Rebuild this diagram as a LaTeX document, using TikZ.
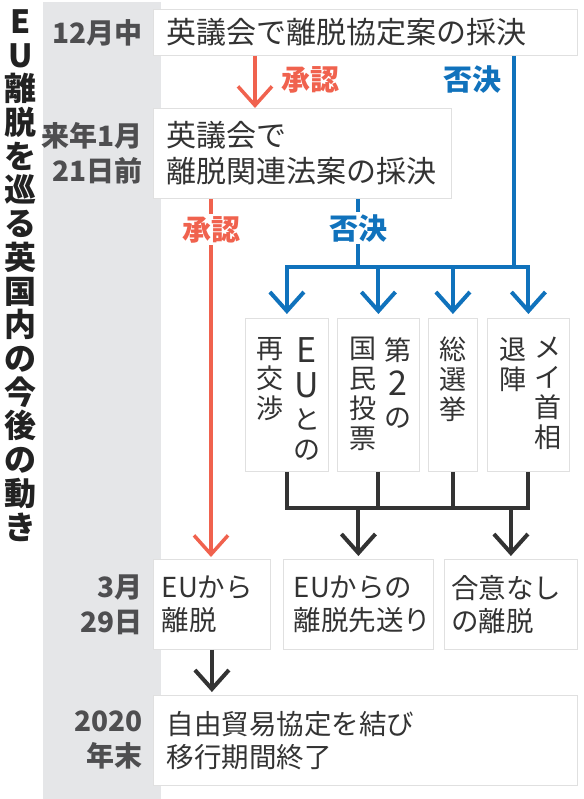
\documentclass[tikz,border=0pt]{standalone}
\usepackage{fontspec}
\newfontfamily\jp{Noto Sans CJK JP}
\usepackage{tikz}
\usetikzlibrary{positioning,arrows.meta,calc,shadows}
\definecolor{bandgray}{RGB}{229,230,232}
\definecolor{inkgray}{RGB}{51,51,51}
\definecolor{dategray}{RGB}{78,78,80}
\definecolor{titleink}{RGB}{34,34,34}
\definecolor{yesred}{RGB}{240,98,78}
\definecolor{noblue}{RGB}{16,114,188}
\newcommand{\bigEU}[1]{{\fontsize{34}{30}\selectfont #1}}
\tikzset{
  flowbox/.style={draw=black!12, line width=.8pt, fill=white,
    drop shadow={shadow xshift=1pt, shadow yshift=-1pt, opacity=.18},
    font=\fontsize{30}{36}\selectfont\jp, text=inkgray, align=left,
    inner xsep=13pt, inner ysep=0pt, anchor=north west},
  endbox/.style={flowbox, font=\fontsize{27.5}{33}\selectfont\jp},
  tatebox/.style={draw=black!12, line width=.8pt, fill=white,
    drop shadow={shadow xshift=1pt, shadow yshift=-1pt, opacity=.18},
    minimum height=153pt, anchor=north west, inner sep=0pt},
  tatecol/.style={font=\fontsize{27}{30}\selectfont\jp, text=inkgray, align=center,
    anchor=north, inner sep=0pt},
  datelabel/.style={font=\fontsize{28}{35}\selectfont\jp\bfseries, text=dategray,
    align=right, inner sep=0pt},
  titlechar/.style={font=\fontsize{32}{32}\selectfont\jp\bfseries, text=titleink,
    inner sep=0pt, text height=.8em, text depth=.1em},
  votelabel/.style={font=\fontsize{29}{29}\selectfont\jp\bfseries, inner xsep=1pt, inner ysep=2pt},
  barb/.style={-{Straight Barb[length=19pt,width=34pt]}},
  yesline/.style={yesred, line width=3.5pt},
  noline/.style={noblue, line width=4pt},
  pathline/.style={inkgray, line width=4pt},
}

\begin{document}
\begin{tikzpicture}[x=1pt,y=-1pt]
  \useasboundingbox (0,0) rectangle (583,799);
  % 日付の帯
  \fill[bandgray] (43,2) rectangle (161,799);
  % 縦の見出し
  \foreach \c [count=\i from 0] in {E,U,離,脱,を,巡,る,英,国,内,の,今,後,の,動,き}
    \node[titlechar] (t\i) at (21,30+\i*33.7) {\c};

  % 採決
  \node[flowbox, text width=398pt, minimum height=46pt] (vote1) at (153,9) {英議会で離脱協定案の採決};
  \node[flowbox, text width=272pt, minimum height=90pt] (vote2) at (153,108) {英議会で\\離脱関連法案の採決};

  % 否決後の選択肢
  \node[tatebox, minimum width=83pt] (opt1) at (245,318) {};
  \node[tatebox, minimum width=82pt] (opt2) at (337,318) {};
  \node[tatebox, minimum width=49pt] (opt3) at (428,318) {};
  \node[tatebox, minimum width=82pt] (opt4) at (487,318) {};
  \node[tatecol] (opt1a) at ([xshift=-22pt,yshift=-19pt]opt1.north east) {\bigEU{E}\\[5pt]\bigEU{U}\\[2pt]と\\の};
  \node[tatecol] (opt1b) at ([xshift=25pt,yshift=-19pt]opt1.north west) {再\\交\\渉};
  \node[tatecol] (opt2a) at ([xshift=-22pt,yshift=-19pt]opt2.north east) {第\\[5pt]\bigEU{2}\\[2pt]の};
  \node[tatecol] (opt2b) at ([xshift=26pt,yshift=-19pt]opt2.north west) {国\\民\\投\\票};
  \node[tatecol] (opt3a) at ([yshift=-19pt]opt3.north) {総\\選\\挙};
  \node[tatecol] (opt4a) at ([xshift=-22pt,yshift=-19pt]opt4.north east) {メ\\イ\\首\\相};
  \node[tatecol] (opt4b) at ([xshift=26pt,yshift=-19pt]opt4.north west) {退\\陣};

  % 3月29日と2020年末
  \node[endbox, inner xsep=8.5pt, text width=100pt, minimum height=90pt] (exit) at (153,559) {EUから\\離脱};
  \node[endbox, inner xsep=10.5pt, text width=129pt, minimum height=90pt] (delay) at (283,559) {EUからの\\離脱先送り};
  \node[endbox, inner xsep=7pt, text width=119pt, minimum height=90pt] (nodeal) at (444,559) {合意なし\\の離脱};
  \node[endbox, inner xsep=13.5pt, text width=397pt, minimum height=90pt] (final) at (153,695) {自由貿易協定を結び\\移行期間終了};

  % 日付
  \node[datelabel, left=10pt of vote1] (d1) {12月中};
  \node[datelabel, left=10pt of vote2] (d2) {来年1月\\21日前};
  \node[datelabel, left=10pt of exit] (d3) {3月\\29日};
  \node[datelabel, left=10pt of final] (d4) {2020\\年末};

  % 矢印
  \coordinate (split) at (0,267);
  \coordinate (merge) at (0,508);
  \coordinate (yes1) at ([xshift=102pt]vote1.south west);
  \coordinate (no1) at ([xshift=-64pt]vote1.south east);
  \coordinate (yes2) at ([xshift=58pt]vote2.south west);
  \coordinate (no2) at ([xshift=205pt]vote2.south west);

  \draw[yesline, barb] (yes1) -- (yes1 |- vote2.north);
  \node[votelabel, text=yesred] (yes1lab) at (310,80) {承認};
  \node[votelabel, text=noblue] (no1lab) at (472,80) {否決};
  \draw[noline] (no1) -- (no1 |- split);
  \draw[yesline, barb, shorten >=2pt] (yes2) -- node[votelabel, text=yesred, fill=white, pos=.086] (yes2lab) {承認} (yes2 |- exit.north);
  \draw[noline] (no2) -- node[votelabel, text=noblue, fill=white, pos=.43] (no2lab) {否決} (no2 |- split);
  \draw[noline, line cap=rect] (opt1.north |- split) -- (opt4.north |- split);
  \foreach \o in {opt1,opt2,opt3,opt4}
    \draw[noline, barb, shorten >=4pt] (\o.north |- split) -- (\o.north);

  \foreach \o in {opt1,opt2,opt3,opt4}
    \draw[pathline] (\o.south) -- (\o.south |- merge);
  \draw[pathline, line cap=rect] (opt1.south |- merge) -- (opt4.south |- merge);
  \draw[pathline, barb, shorten >=3pt] (delay.north |- merge) -- (delay.north);
  \draw[pathline, barb, shorten >=3pt] (nodeal.north |- merge) -- (nodeal.north);
  \draw[pathline, barb, shorten >=3pt] (exit.south) -- (exit.south |- final.north);
\end{tikzpicture}
\end{document}
